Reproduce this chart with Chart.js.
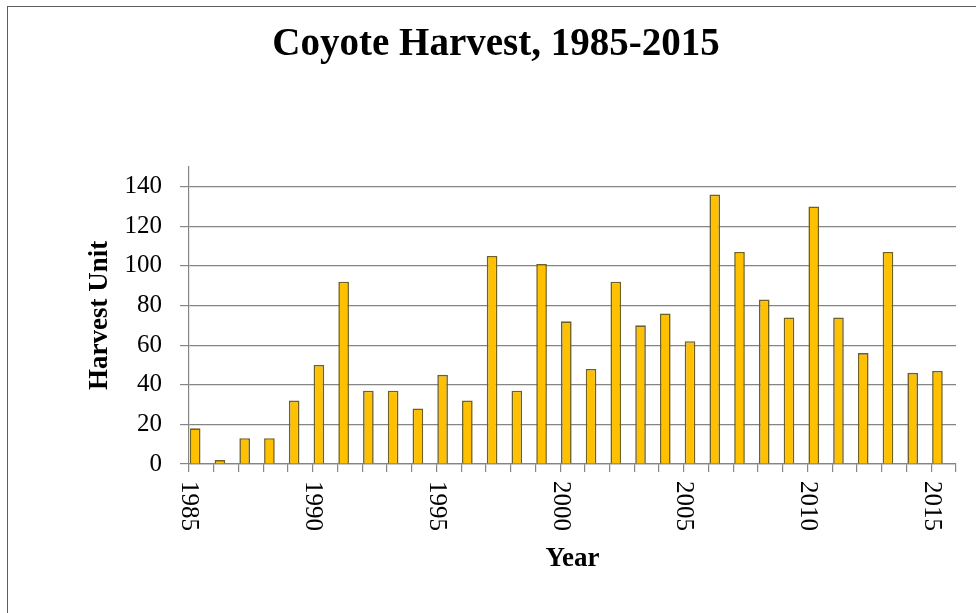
<!DOCTYPE html>
<html>
<head>
<meta charset="utf-8">
<script src="https://cdn.jsdelivr.net/npm/chart.js@4/dist/chart.umd.min.js"></script>
<style>
  html, body { margin: 0; padding: 0; background: #ffffff; overflow: hidden; width: 976px; height: 613px; }
  #frame { position: absolute; left: 7px; top: 6px; width: 1200px; height: 800px;
           border-left: 1px solid #5e5e5e; border-top: 1px solid #5e5e5e; }
  #c { position: absolute; left: 0; top: 0; }
</style>
</head>
<body>
<div id="frame"><canvas id="c" width="976" height="606"></canvas></div>
<script>
// ---- data ----
const years = [1985, 1986, 1987, 1988, 1989, 1990, 1991, 1992, 1993, 1994, 1995,
               1996, 1997, 1998, 1999, 2000, 2001, 2002, 2003, 2004, 2005,
               2006, 2007, 2008, 2009, 2010, 2011, 2012, 2013, 2014, 2015];
const harvest = [18, 2, 13, 13, 32, 50, 92, 37, 37, 28, 45,
                 32, 105, 37, 101, 72, 48, 92, 70, 76, 62,
                 136, 107, 83, 74, 130, 74, 56, 107, 46, 47];
const xTickLabels = ['1985', '1990', '1995', '2000', '2005', '2010', '2015'];
const yTickValues = [0, 20, 40, 60, 80, 100, 120, 140];
const chartTitle = 'Coyote Harvest, 1985-2015';
const xTitle = 'Year';
const yTitle = 'Harvest Unit';

const SERIF = "'Liberation Serif', 'Times New Roman', serif";
const GRID = '#858585';

// Draw the x tick labels rotated clockwise (reading top to bottom), at category boundaries
const rotatedXLabels = {
  id: 'rotatedXLabels',
  afterDraw(chart) {
    const xs = chart.scales.x;
    const ctx = chart.ctx;
    const half = (xs.getPixelForValue(1) - xs.getPixelForValue(0)) / 2;
    ctx.save();
    ctx.font = '25px ' + SERIF;
    ctx.fillStyle = '#000000';
    ctx.textAlign = 'left';
    ctx.textBaseline = 'middle';
    xTickLabels.forEach(lbl => {
      const idx = years.indexOf(Number(lbl));
      if (idx < 0) return;
      const x = xs.getPixelForValue(idx) - half;
      const y = chart.chartArea.bottom + 17;
      ctx.save();
      ctx.translate(x, y);
      ctx.rotate(Math.PI / 2);
      ctx.fillText(lbl, 0, 0);
      ctx.restore();
    });
    ctx.restore();
  }
};

new Chart(document.getElementById('c'), {
  type: 'bar',
  data: {
    labels: years.map(String),
    datasets: [
      {
        label: yTitle,
        data: harvest,
        backgroundColor: '#FFC000',
        borderColor: '#6f6026',
        borderWidth: 1.6,
        categoryPercentage: 1.0,
        barPercentage: 0.86
      },
      {
        label: '',
        data: [],
        categoryPercentage: 1.0,
        barPercentage: 0.86
      }
    ]
  },
  options: {
    responsive: false,
    animation: false,
    devicePixelRatio: 1,
    layout: { padding: { left: 28, right: 28, top: 0, bottom: 0 } },
    plugins: {
      legend: { display: false },
      tooltip: { enabled: false },
      title: {
        display: true,
        text: chartTitle,
        color: '#000000',
        font: { family: SERIF, size: 39, weight: 'bold' },
        padding: { top: 15, bottom: 98 }
      }
    },
    scales: {
      x: {
        type: 'category',
        offset: true,
        grid: {
          offset: true,
          drawOnChartArea: false,
          drawTicks: true,
          tickLength: 8,
          color: GRID,
          lineWidth: 1.2
        },
        border: { display: true, color: GRID, width: 1.2 },
        ticks: { display: false, autoSkip: false },
        title: {
          display: true,
          text: xTitle,
          color: '#000000',
          font: { family: SERIF, size: 27, weight: 'bold' },
          padding: { top: 0, bottom: 38 }
        },
        afterFit(scale) { scale.height = 149; }
      },
      y: {
        min: 0,
        max: 150,
        afterBuildTicks(scale) {
          scale.ticks = yTickValues.map(v => ({ value: v })).concat([{ value: 150 }]);
        },
        grid: {
          color: ctx => (ctx.tick && ctx.tick.value === 150) ? 'rgba(0,0,0,0)' : GRID,
          lineWidth: 1.2,
          tickLength: 9,
          drawTicks: true
        },
        border: { display: true, color: GRID, width: 1.2 },
        ticks: {
          color: '#000000',
          font: { family: SERIF, size: 25 },
          padding: 18,
          callback: v => yTickValues.includes(v) ? String(v) : ''
        },
        title: {
          display: true,
          text: yTitle,
          color: '#000000',
          font: { family: SERIF, size: 27, weight: 'bold' },
          padding: { top: 48, bottom: 0 }
        },
        afterFit(scale) { scale.width = 153; }
      }
    }
  },
  plugins: [rotatedXLabels]
});
</script>
</body>
</html>
